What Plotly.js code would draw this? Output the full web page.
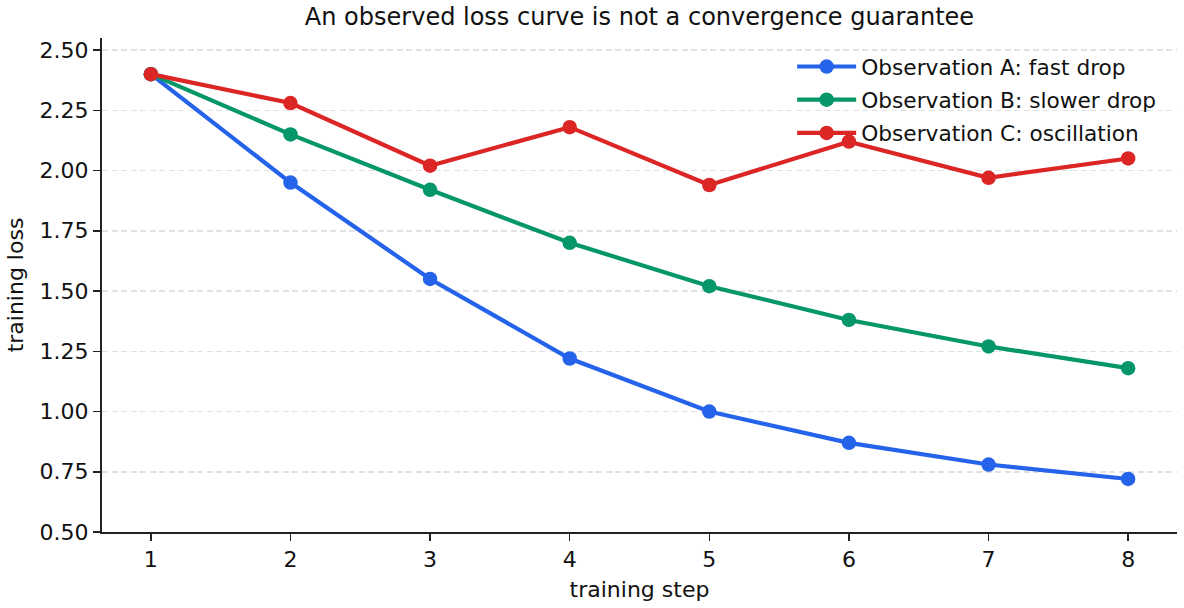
<!DOCTYPE html>
<html>
<head>
<meta charset="utf-8">
<script src="https://cdn.plot.ly/plotly-3.0.1.min.js"></script>
<style>html,body{margin:0;padding:0;background:#fff}#chart{width:1184px;height:608px}</style>
</head>
<body>
<div id="chart"></div>
<script>
const steps = [1, 2, 3, 4, 5, 6, 7, 8];
const seriesNames = ["Observation A: fast drop", "Observation B: slower drop", "Observation C: oscillation"];
const lossA = [2.40, 1.95, 1.55, 1.22, 1.00, 0.87, 0.78, 0.72];
const lossB = [2.40, 2.15, 1.92, 1.70, 1.52, 1.38, 1.27, 1.18];
const lossC = [2.40, 2.28, 2.02, 2.18, 1.94, 2.12, 1.97, 2.05];
const colors = ["#2563eb", "#059669", "#dc2626"];
const yTicks = [0.5, 0.75, 1.0, 1.25, 1.5, 1.75, 2.0, 2.25, 2.5];

const font = "DejaVu Sans, sans-serif";
const all = [lossA, lossB, lossC];
const traces = all.map((ys, i) => ({
  x: steps, y: ys, name: seriesNames[i], type: "scatter", mode: "lines+markers",
  legendgroup: "g" + i,
  line: {color: colors[i], width: 4.2},
  marker: {color: colors[i], size: 14.5}
}));

const layout = {
  width: 1184, height: 608,
  margin: {l: 102, r: 7, t: 38, b: 76},
  paper_bgcolor: "#fff", plot_bgcolor: "#fff",
  font: {family: font, size: 22, color: "#111"},
  title: {text: "An observed loss curve is not a convergence guarantee",
          font: {family: font, size: 24, color: "#111"},
          x: 0.5, xref: "paper", xanchor: "center", y: 1 - 17/608, yref: "container", yanchor: "middle"},
  xaxis: {
    range: [0.65, 8.35], tickvals: steps, ticktext: steps.map(String),
    showgrid: false, zeroline: false, showline: true, linecolor: "#222", linewidth: 2,
    ticks: "outside", ticklen: 7, tickwidth: 1.5, tickcolor: "#222",
    tickfont: {family: font, size: 22, color: "#111"},
    title: {text: "training step", font: {family: font, size: 22, color: "#111"}, standoff: 10}
  },
  yaxis: {
    range: [0.5, 2.55], tickvals: yTicks, ticktext: yTicks.map(v => v.toFixed(2)),
    showgrid: true, gridcolor: "#e2e2e2", gridwidth: 1.5, griddash: "6px,3.5px",
    zeroline: false, showline: true, linecolor: "#222", linewidth: 2,
    ticks: "outside", ticklen: 7, tickwidth: 1.5, tickcolor: "#222",
    tickfont: {family: font, size: 22, color: "#111"},
    title: {text: "training loss", font: {family: font, size: 22, color: "#111"}, standoff: 10}
  },
  showlegend: true,
  legend: {x: 0.642, y: 0.984, xanchor: "left", yanchor: "top", bgcolor: "rgba(0,0,0,0)",
           font: {family: font, size: 21.7, color: "#111"}, itemwidth: 59,
           traceorder: "grouped", tracegroupgap: 2}
};

Plotly.newPlot("chart", traces, layout, {displayModeBar: false, staticPlot: true});
</script>
</body>
</html>
